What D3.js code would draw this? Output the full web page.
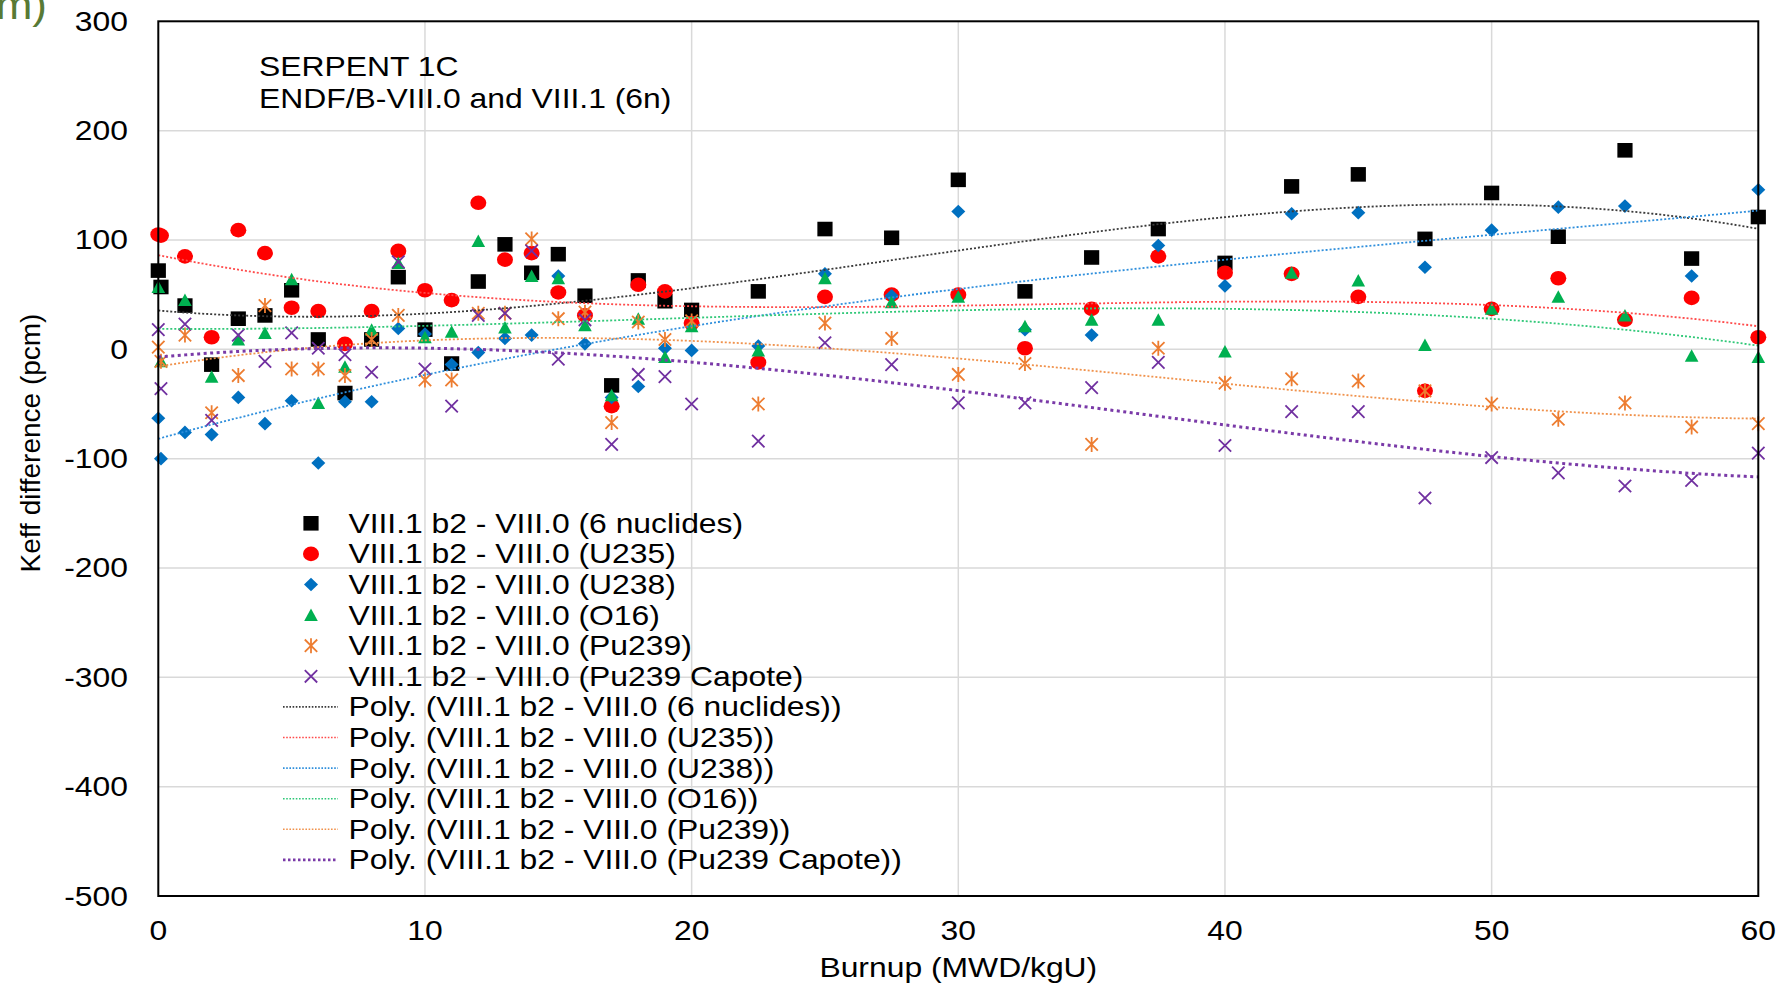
<!DOCTYPE html>
<html>
<head>
<meta charset="utf-8">
<script src="https://cdn.jsdelivr.net/npm/d3@7/dist/d3.min.js"></script>
<style>
  html, body { margin: 0; padding: 0; background: #fff; }
  svg { display: block; }
  text { font-family: "Liberation Sans", Arial, sans-serif; fill: #000; }
</style>
</head>
<body>
<svg id="chart" width="1783" height="983"></svg>
<script>
// Burnup steps (MWD/kgU)
const burnup = [0, 0.1, 1, 2, 3, 4, 5, 6, 7, 8, 9, 10, 11, 12, 13, 14, 15, 16, 17, 18, 19, 20,
  22.5, 25, 27.5, 30, 32.5, 35, 37.5, 40, 42.5, 45, 47.5, 50, 52.5, 55, 57.5, 60];

// Keff differences (pcm), VIII.1 b2 - VIII.0
const nuclides6 = [72, 57, 40, -14, 28, 31, 54, 9, -40, 9, 66, 18, -13, 62, 96, 70, 87, 49, -33, 63, 44, 36,
  53, 110, 102, 155, 53, 84, 110, 79, 149, 160, 101, 143, 103, 182, 83, 121];
const u235 = [105, 104, 85, 11, 109, 88, 38, 35, 5, 35, 90, 54, 45, 134, 82, 88, 52, 31, -52, 59, 53, 24,
  -12, 48, 50, 50, 1, 37, 85, 70, 69, 48, -38, 37, 65, 27, 47, 11];
const u238 = [-63, -100, -76, -78, -44, -68, -47, -104, -48, -48, 19, 14, -14, -3, 10, 13, 67, 5, -44, -34, 1, -1,
  3, 69, 49, 126, 18, 13, 95, 58, 124, 125, 75, 109, 130, 131, 67, 146];
const o16 = [57, -11, 45, -25, 9, 15, 64, -49, -16, 18, 79, 11, 16, 99, 20, 67, 65, 22, -42, 28, -7, 21,
  -1, 65, 43, 48, 21, 27, 27, -2, 70, 63, 4, 37, 48, 31, -6, -7];
const pu239 = [2, -11, 13, -58, -24, 40, -18, -18, -24, 9, 31, -28, -28, 33, 33, 101, 28, 34, -67, 25, 9, 26,
  -50, 24, 10, -23, -13, -87, 1, -31, -27, -29, -38, -50, -64, -49, -71, -68];
const pu239Capote = [18, -36, 23, -65, 13, -11, 15, 1, -5, -21, 80, -18, -52, 31, 33, 90, -9, 27, -87, -23, -25, -50,
  -84, 6, -14, -49, -49, -35, -12, -88, -57, -57, -136, -99, -113, -125, -120, -95];

const seriesNames = [
  "VIII.1 b2 - VIII.0 (6 nuclides)",
  "VIII.1 b2 - VIII.0 (U235)",
  "VIII.1 b2 - VIII.0 (U238)",
  "VIII.1 b2 - VIII.0 (O16)",
  "VIII.1 b2 - VIII.0 (Pu239)",
  "VIII.1 b2 - VIII.0 (Pu239 Capote)"
];
const xTicks = [0, 10, 20, 30, 40, 50, 60];
const yTicks = [300, 200, 100, 0, -100, -200, -300, -400, -500];
const titleLines = ["SERPENT 1C", "ENDF/B-VIII.0 and VIII.1 (6n)"];
const xTitle = "Burnup (MWD/kgU)";
const yTitle = "Keff difference (pcm)";

// Marker and trendline styling per series
const styles = [
  { values: nuclides6,   marker: "square",   color: "#000000", trend: "#3a3a3a", tw: 1.8, dash: "2 2" },
  { values: u235,        marker: "circle",   color: "#ff0000", trend: "#ff4b4b", tw: 1.8, dash: "2 2" },
  { values: u238,        marker: "diamond",  color: "#0070c0", trend: "#2f8fdc", tw: 1.8, dash: "2 2" },
  { values: o16,         marker: "triangle", color: "#00b050", trend: "#30c878", tw: 1.8, dash: "2 2" },
  { values: pu239,       marker: "star",     color: "#ed7d31", trend: "#f0924c", tw: 1.8, dash: "2 2" },
  { values: pu239Capote, marker: "cross",    color: "#7030a0", trend: "#7a3aa8", tw: 3.0, dash: "3 3.5" }
];

const SX = 1.18;            // horizontal text stretch
const FONT = 27;

const svg = d3.select("#chart");
const x = d3.scaleLinear().domain([0, 60]).range([158.3, 1758.3]);
const y = d3.scaleLinear().domain([-500, 300]).range([896, 21.3]);

svg.append("rect").attr("width", 1783).attr("height", 983).attr("fill", "#fff");

function label(g, px, py, str, anchor, size, extra) {
  return g.append("text")
    .attr("transform", `translate(${px},${py}) scale(${SX},1)` + (extra || ""))
    .attr("text-anchor", anchor)
    .attr("font-size", size || FONT)
    .text(str);
}

// Partial caption at the top-left corner
svg.append("text")
  .attr("transform", "translate(47,19) scale(1.1,1)")
  .attr("text-anchor", "end")
  .attr("font-size", 40)
  .style("fill", "#587a35")
  .text("m)");

// Gridlines
const grid = svg.append("g");
grid.selectAll("line.v").data(xTicks.slice(1, -1)).join("line")
  .attr("x1", d => x(d)).attr("x2", d => x(d))
  .attr("y1", y(300)).attr("y2", y(-500))
  .attr("stroke", "#d9d9d9").attr("stroke-width", 1.5);
grid.selectAll("line.h").data(yTicks.slice(1, -1)).join("line")
  .attr("x1", x(0)).attr("x2", x(60))
  .attr("y1", d => y(d)).attr("y2", d => y(d))
  .attr("stroke", "#d9d9d9").attr("stroke-width", 1.5);

// Axis tick labels
const axes = svg.append("g");
yTicks.forEach(t => label(axes, 128, y(t) + 9.5, String(t), "end"));
xTicks.forEach(t => label(axes, x(t), 940, String(t), "middle"));
label(axes, (x(0) + x(60)) / 2, 977, xTitle, "middle");
axes.append("text")
  .attr("transform", "translate(40,443) rotate(-90)")
  .attr("text-anchor", "middle")
  .attr("font-size", FONT + 1)
  .text(yTitle);

// Title block
const title = svg.append("g");
label(title, 259, 76, titleLines[0], "start");
label(title, 259, 108, titleLines[1], "start");

// Least-squares polynomial fit (cubic), x normalised by 60
function polyfit(xs, ys, order) {
  const n = order + 1;
  const A = Array.from({ length: n }, () => new Array(n + 1).fill(0));
  xs.forEach((xv, k) => {
    const t = xv / 60;
    for (let i = 0; i < n; i++) {
      for (let j = 0; j < n; j++) A[i][j] += Math.pow(t, i + j);
      A[i][n] += ys[k] * Math.pow(t, i);
    }
  });
  for (let c = 0; c < n; c++) {
    let p = c;
    for (let r = c + 1; r < n; r++) if (Math.abs(A[r][c]) > Math.abs(A[p][c])) p = r;
    [A[c], A[p]] = [A[p], A[c]];
    for (let r = 0; r < n; r++) {
      if (r === c) continue;
      const f = A[r][c] / A[c][c];
      for (let k = c; k <= n; k++) A[r][k] -= f * A[c][k];
    }
  }
  const coef = A.map((row, i) => row[n] / row[i]);
  return xv => coef.reduce((s, cf, i) => s + cf * Math.pow(xv / 60, i), 0);
}

// Marker shapes
function drawMarker(g, type, color, cx, cy) {
  if (type === "circle") {
    g.append("ellipse").attr("cx", cx).attr("cy", cy).attr("rx", 8).attr("ry", 7.3).attr("fill", color);
    return;
  }
  const paths = {
    square: "M-7.6,-7.3H7.6V7.3H-7.6Z",
    diamond: "M0,-6.8L7,0L0,6.8L-7,0Z",
    triangle: "M0,-6.5L6.8,6L-6.8,6Z",
    star: "M-6.2,-6.2L6.2,6.2M-6.2,6.2L6.2,-6.2M0,-7.5V7.5",
    cross: "M-6.2,-6.2L6.2,6.2M-6.2,6.2L6.2,-6.2"
  };
  const p = g.append("path").attr("d", paths[type]).attr("transform", `translate(${cx},${cy})`);
  if (type === "star" || type === "cross") p.attr("fill", "none").attr("stroke", color).attr("stroke-width", 1.8);
  else p.attr("fill", color);
}

// Data markers
const plot = svg.append("g");
styles.forEach(s => {
  const g = plot.append("g");
  s.values.forEach((v, i) => drawMarker(g, s.marker, s.color, x(burnup[i]), y(v)));
});

// Polynomial trendlines
const samples = d3.range(0, 60.001, 0.5);
const line = d3.line().x(d => x(d[0])).y(d => y(d[1]));
styles.forEach(s => {
  const f = polyfit(burnup, s.values, 3);
  plot.append("path")
    .datum(samples.map(b => [b, f(b)]))
    .attr("d", line)
    .attr("fill", "none")
    .attr("stroke", s.trend)
    .attr("stroke-width", s.tw)
    .attr("stroke-dasharray", s.dash);
});

// Plot frame
svg.append("rect")
  .attr("x", x(0)).attr("y", y(300))
  .attr("width", x(60) - x(0)).attr("height", y(-500) - y(300))
  .attr("fill", "none").attr("stroke", "#000").attr("stroke-width", 2);

// Legend
const legend = svg.append("g");
const rowY = i => 523.3 + i * 30.6;
styles.forEach((s, i) => {
  drawMarker(legend, s.marker, s.color, 311, rowY(i));
  label(legend, 348.4, rowY(i) + 9.5, seriesNames[i], "start");
});
styles.forEach((s, i) => {
  const r = rowY(i + 6);
  legend.append("line")
    .attr("x1", 283).attr("x2", 338).attr("y1", r).attr("y2", r)
    .attr("stroke", s.trend).attr("stroke-width", s.tw === 3 ? 2.6 : 1.6)
    .attr("stroke-dasharray", s.tw === 3 ? "2.5 2.5" : "1.6 1.6");
  label(legend, 348.4, r + 9.5, `Poly. (${seriesNames[i]})`, "start");
});
</script>
</body>
</html>
